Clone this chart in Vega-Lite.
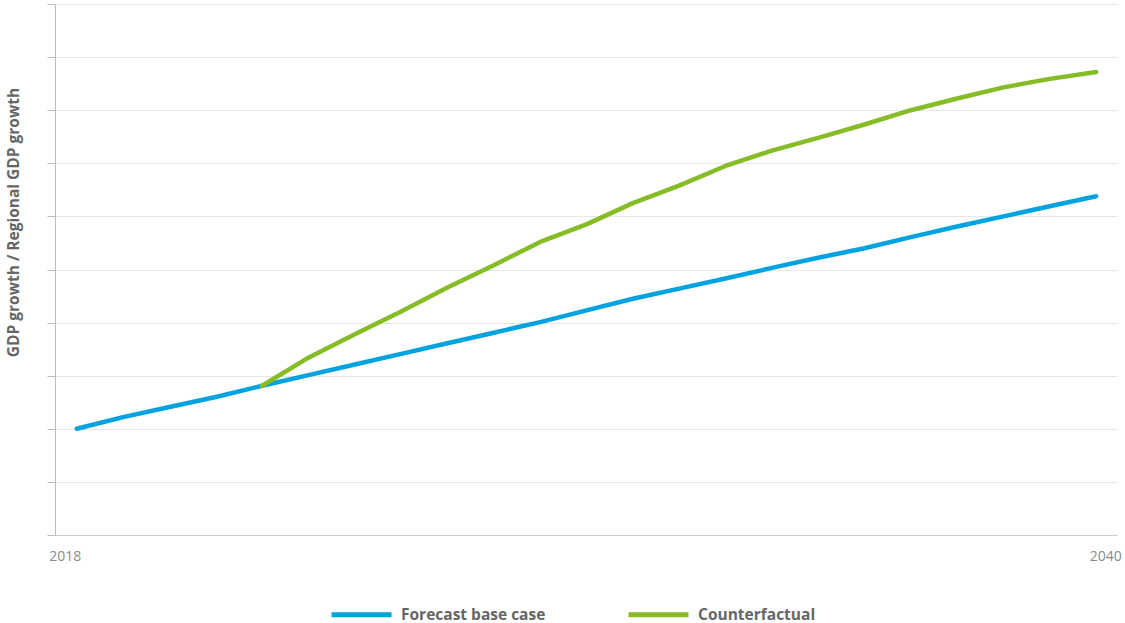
{
  "$schema": "https://vega.github.io/schema/vega-lite/v6.json",
  "width": 1062,
  "height": 531,
  "autosize": "none",
  "padding": {"left": 55, "top": 4, "right": 8, "bottom": 88},
  "background": "white",
  "config": {"font": "Open Sans", "view": {"stroke": null}},
  "data": {
    "values": [
      {"year": 2018, "series": "Forecast base case", "value": 2.00},
      {"year": 2019, "series": "Forecast base case", "value": 2.22},
      {"year": 2020, "series": "Forecast base case", "value": 2.41},
      {"year": 2021, "series": "Forecast base case", "value": 2.60},
      {"year": 2022, "series": "Forecast base case", "value": 2.81},
      {"year": 2023, "series": "Forecast base case", "value": 3.01},
      {"year": 2024, "series": "Forecast base case", "value": 3.21},
      {"year": 2025, "series": "Forecast base case", "value": 3.41},
      {"year": 2026, "series": "Forecast base case", "value": 3.61},
      {"year": 2027, "series": "Forecast base case", "value": 3.81},
      {"year": 2028, "series": "Forecast base case", "value": 4.01},
      {"year": 2029, "series": "Forecast base case", "value": 4.23},
      {"year": 2030, "series": "Forecast base case", "value": 4.45},
      {"year": 2031, "series": "Forecast base case", "value": 4.64},
      {"year": 2032, "series": "Forecast base case", "value": 4.83},
      {"year": 2033, "series": "Forecast base case", "value": 5.03},
      {"year": 2034, "series": "Forecast base case", "value": 5.22},
      {"year": 2035, "series": "Forecast base case", "value": 5.40},
      {"year": 2036, "series": "Forecast base case", "value": 5.61},
      {"year": 2037, "series": "Forecast base case", "value": 5.81},
      {"year": 2038, "series": "Forecast base case", "value": 6.00},
      {"year": 2039, "series": "Forecast base case", "value": 6.19},
      {"year": 2040, "series": "Forecast base case", "value": 6.38},
      {"year": 2022, "series": "Counterfactual", "value": 2.81},
      {"year": 2023, "series": "Counterfactual", "value": 3.34},
      {"year": 2024, "series": "Counterfactual", "value": 3.78},
      {"year": 2025, "series": "Counterfactual", "value": 4.21},
      {"year": 2026, "series": "Counterfactual", "value": 4.66},
      {"year": 2027, "series": "Counterfactual", "value": 5.08},
      {"year": 2028, "series": "Counterfactual", "value": 5.52},
      {"year": 2029, "series": "Counterfactual", "value": 5.85},
      {"year": 2030, "series": "Counterfactual", "value": 6.25},
      {"year": 2031, "series": "Counterfactual", "value": 6.58},
      {"year": 2032, "series": "Counterfactual", "value": 6.95},
      {"year": 2033, "series": "Counterfactual", "value": 7.24},
      {"year": 2034, "series": "Counterfactual", "value": 7.48},
      {"year": 2035, "series": "Counterfactual", "value": 7.73},
      {"year": 2036, "series": "Counterfactual", "value": 8.00},
      {"year": 2037, "series": "Counterfactual", "value": 8.22},
      {"year": 2038, "series": "Counterfactual", "value": 8.43},
      {"year": 2039, "series": "Counterfactual", "value": 8.59},
      {"year": 2040, "series": "Counterfactual", "value": 8.72}
    ]
  },
  "mark": {"type": "line", "strokeWidth": 4.5, "strokeCap": "round", "strokeJoin": "round"},
  "encoding": {
    "x": {
      "field": "year",
      "type": "quantitative",
      "scale": {"domain": [2017.53, 2040.45], "nice": false, "zero": false},
      "axis": {
        "values": [2018, 2040],
        "format": "d",
        "title": null,
        "grid": false,
        "ticks": false,
        "domainColor": "#cccccc",
        "labelColor": "#8a8a8a",
        "labelFontSize": 14,
        "labelPadding": 14,
        "labelFlush": false,
        "labelOffset": {"expr": "datum.value == 2018 ? -12 : 9"}
      }
    },
    "y": {
      "field": "value",
      "type": "quantitative",
      "scale": {"domain": [0, 10], "nice": false},
      "axis": {
        "values": [0, 1, 2, 3, 4, 5, 6, 7, 8, 9, 10],
        "labels": false,
        "tickSize": 8,
        "tickColor": "#bbbbbb",
        "domainColor": "#bbbbbb",
        "gridColor": "#e6e6e6",
        "title": "GDP growth / Regional GDP growth",
        "titleFontSize": 15.5,
        "titleFontWeight": "bold",
        "titleColor": "#666666",
        "titleAngle": -90,
        "titleAlign": "center",
        "titleBaseline": "middle",
        "titleX": -42,
        "titleY": 218
      }
    },
    "color": {
      "field": "series",
      "type": "nominal",
      "scale": {"domain": ["Forecast base case", "Counterfactual"], "range": ["#00A3E0", "#86BC25"]},
      "legend": {
        "title": null,
        "orient": "none",
        "legendX": 274,
        "legendY": 578,
        "direction": "horizontal",
        "symbolType": "stroke",
        "symbolSize": 3600,
        "symbolStrokeWidth": 5,
        "labelFontSize": 15.5,
        "labelFontWeight": "bold",
        "labelColor": "#666666",
        "labelOffset": 7,
        "columnPadding": 72
      }
    }
  }
}
